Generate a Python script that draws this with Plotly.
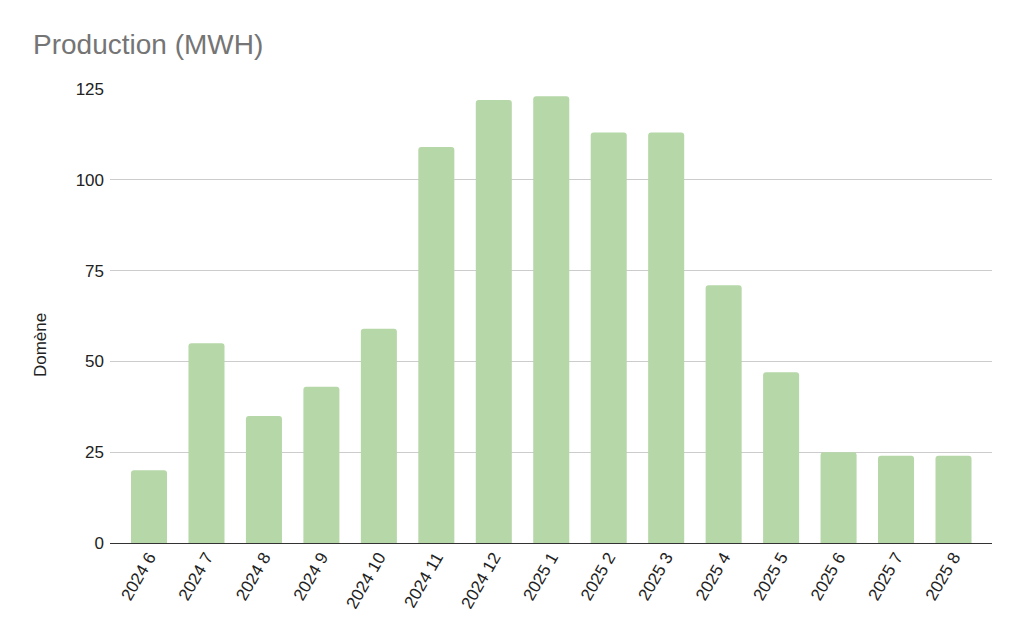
import plotly.graph_objects as go

categories = ["2024 6", "2024 7", "2024 8", "2024 9", "2024 10", "2024 11", "2024 12",
              "2025 1", "2025 2", "2025 3", "2025 4", "2025 5", "2025 6", "2025 7", "2025 8"]
values = [20, 55, 35, 43, 59, 109, 122, 123, 113, 113, 71, 47, 25, 24, 24]
y_ticks = [0, 25, 50, 75, 100, 125]

fig = go.Figure(go.Bar(x=categories, y=values, marker=dict(color="#b6d7a8", line=dict(width=0))))

fig.update_layout(
    width=1024, height=641,
    paper_bgcolor="white", plot_bgcolor="white",
    margin=dict(l=102, r=40, t=81, b=106),
    bargap=0.373,
    barcornerradius=3,
    font=dict(family="Liberation Sans, Arial, sans-serif", color="#222222", size=17),
    title=dict(text="Production (MWH)", x=0, xref="container", y=1, yref="container",
               xanchor="left", yanchor="top", pad=dict(l=25, t=26),
               font=dict(size=28, color="#757575")),
    showlegend=False,
)
fig.add_annotation(text="Domène", xref="paper", yref="paper", x=-0.0794, y=0.436,
                   xanchor="center", yanchor="middle", textangle=-90, showarrow=False,
                   font=dict(size=17, color="#222222"))
fig.update_xaxes(type="category", tickangle=-60, range=[-0.679, 14.67],
                 showgrid=False, ticks="", tickfont=dict(size=17, color="#222222"))
fig.update_yaxes(range=[0, 125], tickvals=y_ticks, showgrid=True, gridcolor="#cccccc",
                 gridwidth=1, zeroline=True, zerolinecolor="#333333", zerolinewidth=1,
                 ticks="", ticklabelstandoff=5, tickfont=dict(size=17, color="#222222"))

fig.write_html("out.html")
